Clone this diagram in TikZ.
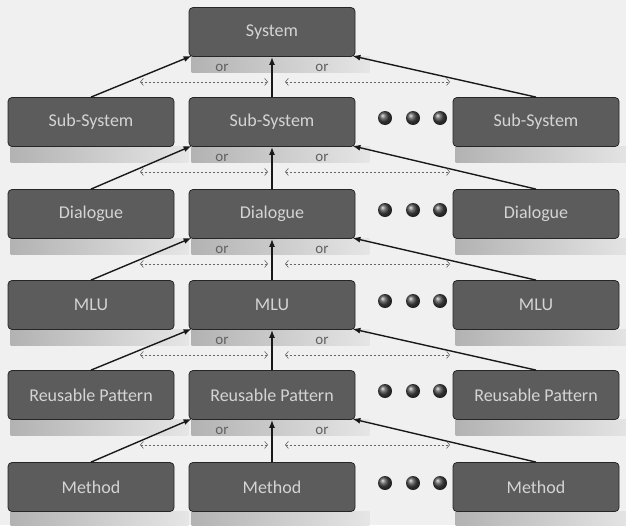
\documentclass[tikz,border=0pt]{standalone}
\usepackage{fontspec}
\setmainfont{Carlito}
\usetikzlibrary{arrows.meta,backgrounds}

\begin{document}
\begin{tikzpicture}[x=1pt,y=-1pt,
    blk/.style={draw=black!85, line width=0.8pt, rounded corners=4pt, fill=black!64,
      text=black!17, minimum width=166pt, minimum height=49pt, inner sep=2pt,
      font=\fontsize{18}{20}\selectfont},
    up/.style={-{Latex[length=8pt,width=6pt]}, line width=1.4pt, draw=black!90},
    alt/.style={{Straight Barb[length=3pt,width=7pt]}-{Straight Barb[length=3pt,width=7pt]},
      dash pattern=on 2.5pt off 1.5pt, line width=0.6pt, draw=black!60},
    orlbl/.style={font=\fontsize{15}{17}\selectfont, text=black!62, inner sep=0pt},
    shd/.style={left color=black!30, right color=black!10},
    dot/.style={circle, ball color=black!72, minimum size=14pt, inner sep=0pt}
  ]
  \useasboundingbox (0,0) rectangle (626,525);
  % top of the hierarchy
  \node[blk] (sys-M) at (272,32) {System};
  % one row per level
  \foreach \r/\y/\t in {sub/122/Sub-System, dlg/214/Dialogue, mlu/305/MLU,
      pat/395/Reusable Pattern, mth/487/Method} {
    \node[blk] (\r-L) at (91,\y) {\t};
    \node[blk] (\r-M) at (272,\y) {\t};
    \node[blk] (\r-R) at (536,\y) {\t};
    \foreach \x in {385,413,440}
      \node[dot] (\r-dot\x) at (\x,\y-4) {};
  }
  % links between levels
  \foreach \p/\c in {sys/sub, sub/dlg, dlg/mlu, mlu/pat, pat/mth} {
    \draw[up] (\c-L.north) -- ([xshift=3pt,yshift=1pt]\p-M.south west);
    \draw[up] (\c-M.north) -- (\p-M.south);
    \draw[up] (\c-R.north) -- ([xshift=-3pt,yshift=1pt]\p-M.south east);
    \coordinate (\p-a) at ([xshift=-132pt,yshift=-25pt]\p-M.south);
    \coordinate (\p-b) at ([xshift=-4pt,yshift=-25pt]\p-M.south);
    \coordinate (\p-c) at ([xshift=13pt,yshift=-25pt]\p-M.south);
    \coordinate (\p-d) at ([xshift=178pt,yshift=-25pt]\p-M.south);
    \draw[alt] (\p-a) -- (\p-b);
    \draw[alt] (\p-c) -- (\p-d);
    \node[orlbl] (\p-or1) at ([xshift=-50pt,yshift=-11pt]\p-M.south) {or};
    \node[orlbl] (\p-or2) at ([xshift=50pt,yshift=-11pt]\p-M.south) {or};
  }
  \begin{scope}[on background layer]
    \fill[black!6] (0,0) rectangle (626,525);
    \foreach \n in {sys-M, sub-L, sub-M, sub-R, dlg-L, dlg-M, dlg-R, mlu-L, mlu-M, mlu-R,
        pat-L, pat-M, pat-R, mth-L, mth-M, mth-R}
      \fill[shd] ([xshift=3pt]\n.south west) rectangle ([xshift=14pt,yshift=-16pt]\n.south east);
  \end{scope}
\end{tikzpicture}
\end{document}
